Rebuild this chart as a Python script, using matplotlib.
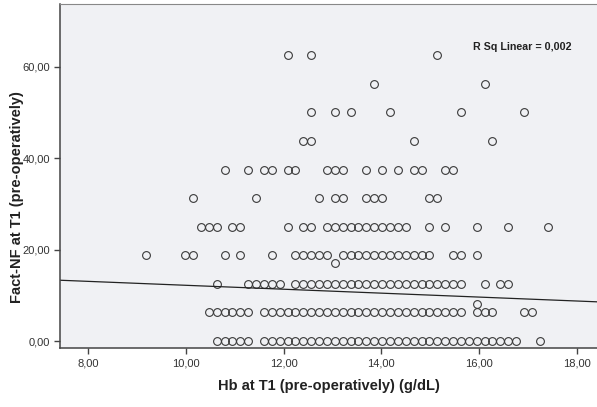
import matplotlib
matplotlib.use("Agg")
import matplotlib.pyplot as plt
from matplotlib.ticker import FuncFormatter

plt.rcParams['font.family'] = ['Liberation Sans', 'DejaVu Sans']

# Hb, in mmol/L steps (converted to g/dL below)
MMOL_TO_GDL = 1.611

fact_levels = [0.0, 6.25, 12.5, 18.75, 25.0, 31.25, 37.5, 43.75, 50.0, 56.25, 62.5]

hb_rows_mmol = [
    # Fact-NF = 0
    [6.6, 6.7, 6.8, 6.9, 7.0, 7.2, 7.3, 7.4, 7.5, 7.6, 7.7, 7.8, 7.9, 8.0, 8.1,
     8.2, 8.3, 8.4, 8.5, 8.6, 8.7, 8.8, 8.9, 9.0, 9.1, 9.2, 9.3, 9.4, 9.5, 9.6,
     9.7, 9.8, 9.9, 10.0, 10.1, 10.2, 10.3, 10.4, 10.7],
    # 6.25
    [6.5, 6.6, 6.7, 6.8, 6.9, 7.0, 7.2, 7.3, 7.4, 7.5, 7.6, 7.7, 7.8, 7.9, 8.0,
     8.1, 8.2, 8.3, 8.4, 8.5, 8.6, 8.7, 8.8, 8.9, 9.0, 9.1, 9.2, 9.3, 9.4, 9.5,
     9.6, 9.7, 9.9, 10.0, 10.1, 10.5, 10.6],
    # 12.5
    [6.6, 7.0, 7.1, 7.2, 7.3, 7.4, 7.6, 7.7, 7.8, 7.9, 8.0, 8.1, 8.2, 8.3, 8.4,
     8.5, 8.6, 8.7, 8.8, 8.9, 9.0, 9.1, 9.2, 9.3, 9.4, 9.5, 9.6, 9.7, 10.0,
     10.2, 10.3],
    # 18.75
    [5.7, 6.2, 6.3, 6.7, 6.9, 7.3, 7.6, 7.7, 7.8, 7.9, 8.0, 8.2, 8.3, 8.4, 8.5,
     8.6, 8.7, 8.8, 8.9, 9.0, 9.1, 9.2, 9.3, 9.6, 9.7, 9.9],
    # 25
    [6.4, 6.5, 6.6, 6.8, 6.9, 7.5, 7.7, 7.8, 8.0, 8.1, 8.2, 8.3, 8.4, 8.5, 8.6,
     8.7, 8.8, 8.9, 9.0, 9.3, 9.5, 9.9, 10.3, 10.8],
    # 31.25
    [6.3, 7.1, 7.9, 8.1, 8.2, 8.5, 8.6, 8.7, 9.3, 9.4],
    # 37.5
    [6.7, 7.0, 7.2, 7.3, 7.5, 7.6, 8.0, 8.1, 8.2, 8.5, 8.7, 8.9, 9.1, 9.2, 9.5, 9.6],
    # 43.75
    [7.7, 7.8, 9.1, 10.1],
    # 50
    [7.8, 8.1, 8.3, 8.8, 9.7, 10.5],
    # 56.25
    [8.6, 10.0],
    # 62.5
    [7.5, 7.8, 9.4],
]

# two off-grid cases
extra_hb_mmol = [8.1, 9.9]
extra_fact = [17.1, 8.1]

# linear fit shown on the chart
fit_intercept = 16.5
fit_slope = -0.43
r_sq_text = "R Sq Linear = 0,002"

hb = []
fact = []
for level, row in zip(fact_levels, hb_rows_mmol):
    for v in row:
        hb.append(v * MMOL_TO_GDL)
        fact.append(level)
for v, f in zip(extra_hb_mmol, extra_fact):
    hb.append(v * MMOL_TO_GDL)
    fact.append(f)

fig = plt.figure(figsize=(5.97, 4.07), dpi=100)
ax = fig.add_axes([0.101, 0.144, 0.899, 0.846])
ax.set_facecolor('#f0f1f4')

x0, x1 = 7.434, 18.41
ax.set_xlim(x0, x1)
ax.set_ylim(-1.6, 73.7)

ax.plot(hb, fact, linestyle='none', marker='o', markersize=5.6,
        markerfacecolor='none', markeredgecolor='#3a3a3a', markeredgewidth=0.8)

ax.plot([x0, x1], [fit_intercept + fit_slope * x0, fit_intercept + fit_slope * x1],
        color='#222222', linewidth=0.9)

ax.text(0.769, 0.875, r_sq_text, transform=ax.transAxes, ha='left', va='center',
        fontsize=7.7, fontweight='bold', color='#222222')

ax.set_xticks([8, 10, 12, 14, 16, 18])
ax.set_yticks([0, 20, 40, 60])
fmt = FuncFormatter(lambda v, p: f"{v:.2f}".replace('.', ','))
ax.xaxis.set_major_formatter(fmt)
ax.yaxis.set_major_formatter(fmt)
ax.tick_params(direction='out', length=4, width=1, colors='#444444',
               labelsize=8, labelcolor='#333333')

for side in ['left', 'bottom']:
    ax.spines[side].set_color('#444444')
    ax.spines[side].set_linewidth(1.1)
ax.spines['top'].set_color('#888888')
ax.spines['top'].set_linewidth(0.8)
ax.spines['right'].set_visible(False)

ax.set_xlabel("Hb at T1 (pre-operatively) (g/dL)", fontsize=10.5,
              fontweight='bold', color='#222222')
ax.set_ylabel("Fact-NF at T1 (pre-operatively)", fontsize=10.5,
              fontweight='bold', color='#222222')
ax.xaxis.set_label_coords(0.5, -0.09)
ax.yaxis.set_label_coords(-0.068, 0.44)

fig.savefig("out.png", dpi=100)
